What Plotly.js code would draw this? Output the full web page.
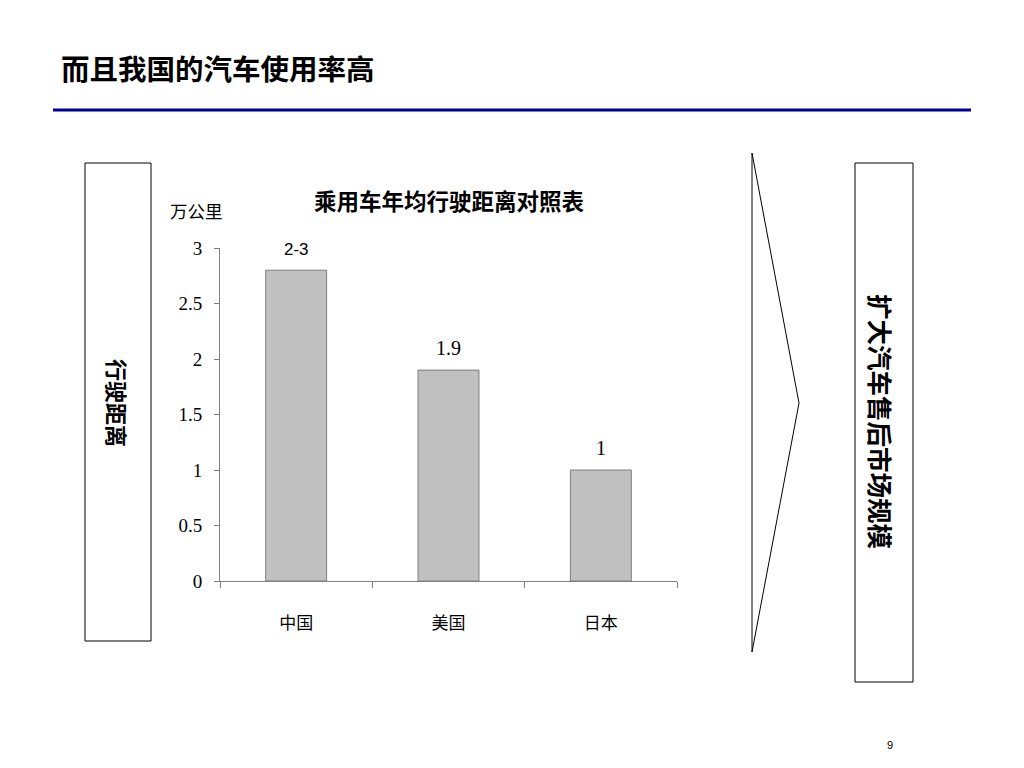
<!DOCTYPE html>
<html>
<head>
<meta charset="utf-8">
<script src="https://cdn.plot.ly/plotly-3.0.1.min.js"></script>
<style>
  html, body { margin: 0; padding: 0; background: #fff; }
  #chart { width: 1024px; height: 768px; }
</style>
</head>
<body>
<div id="chart"></div>
<script>
// chart data
const countries = ["中国", "美国", "日本"];
const mileage = [2.8, 1.9, 1.0];            // 万公里
const valueLabels = ["2-3", "1.9", "1"];
const labelFonts = ["Liberation Sans", "Liberation Serif", "Liberation Serif"];
const labelSizes = [17, 20, 20];
const yTicks = [0, 0.5, 1, 1.5, 2, 2.5, 3];

const W = 1024, H = 768;
const px = (x) => x / W;
const py = (y) => 1 - y / H;

const CJK = "Noto Sans CJK SC";

const trace = {
  type: "bar",
  x: countries,
  y: mileage,
  width: 0.4,
  marker: { color: "#c0c0c0", line: { color: "#7f7f7f", width: 1 } },
  hoverinfo: "skip",
};

// value labels above the bars
const valueAnnots = countries.map((c, i) => ({
  xref: "x", yref: "y",
  x: c, y: mileage[i],
  text: valueLabels[i],
  showarrow: false,
  yanchor: "bottom",
  yshift: 9,
  font: { family: labelFonts[i], size: labelSizes[i], color: "#000" },
}));

const layout = {
  width: W, height: H,
  margin: { l: 0, r: 0, t: 0, b: 0 },
  paper_bgcolor: "#fff",
  plot_bgcolor: "rgba(0,0,0,0)",
  showlegend: false,
  xaxis: {
    domain: [px(220), px(677)],
    range: [-0.5, 2.5],
    showline: true, linecolor: "#808080", linewidth: 1,
    ticks: "outside", tickson: "boundaries", ticklen: 6, tickcolor: "#808080",
    showgrid: false, zeroline: false,
    tickfont: { family: CJK, size: 17, color: "#000" },
    ticklabelstandoff: 27,
    fixedrange: true,
  },
  yaxis: {
    domain: [py(581), py(248)],
    range: [0, 3],
    tickvals: yTicks,
    ticktext: yTicks.map(String),
    showline: true, linecolor: "#808080", linewidth: 1,
    ticks: "outside", ticklen: 5, tickcolor: "#808080",
    showgrid: false, zeroline: false,
    tickfont: { family: "Liberation Serif", size: 19, color: "#000" },
    ticklabelstandoff: 8,
    fixedrange: true,
  },
  shapes: [
    // blue rule under the page title
    { type: "line", xref: "paper", yref: "paper", x0: px(53), x1: px(971), y0: py(110), y1: py(110),
      line: { color: "#000099", width: 3 } },
    // left box
    { type: "rect", xref: "paper", yref: "paper", x0: px(85), x1: px(151), y0: py(163), y1: py(641),
      line: { color: "#000", width: 1 } },
    // right box
    { type: "rect", xref: "paper", yref: "paper", x0: px(855), x1: px(913), y0: py(163), y1: py(682),
      line: { color: "#000", width: 1 } },
    // chevron arrow
    { type: "path", xref: "paper", yref: "paper",
      path: `M ${px(752)} ${py(153)} L ${px(799)} ${py(403)} L ${px(752)} ${py(652)} Z`,
      line: { color: "#000", width: 1 } },
  ],
  annotations: [
    { xref: "paper", yref: "paper", x: px(59), y: py(68), xanchor: "left", yanchor: "middle",
      text: "<b>而且我国的汽车使用率高</b>", showarrow: false,
      font: { family: CJK, size: 28.5, color: "#000" } },
    { xref: "paper", yref: "paper", x: px(449), y: py(200), xanchor: "center", yanchor: "middle",
      text: "<b>乘用车年均行驶距离对照表</b>", showarrow: false,
      font: { family: CJK, size: 22.5, color: "#000" } },
    { xref: "paper", yref: "paper", x: px(196), y: py(210), xanchor: "center", yanchor: "middle",
      text: "万公里", showarrow: false,
      font: { family: CJK, size: 17.5, color: "#000" } },
    { xref: "paper", yref: "paper", x: px(118), y: py(403), xanchor: "center", yanchor: "middle",
      text: "<b>行驶距离</b>", textangle: 90, showarrow: false,
      font: { family: CJK, size: 22, color: "#000" } },
    { xref: "paper", yref: "paper", x: px(882), y: py(421), xanchor: "center", yanchor: "middle",
      text: "<b>扩大汽车售后市场规模</b>", textangle: 90, showarrow: false,
      font: { family: CJK, size: 25.5, color: "#000" } },
    { xref: "paper", yref: "paper", x: px(890), y: py(745), xanchor: "center", yanchor: "middle",
      text: "9", showarrow: false,
      font: { family: "Liberation Sans", size: 11, color: "#000" } },
    ...valueAnnots,
  ],
};

Plotly.newPlot("chart", [trace], layout, { displayModeBar: false, staticPlot: true });
</script>
</body>
</html>
